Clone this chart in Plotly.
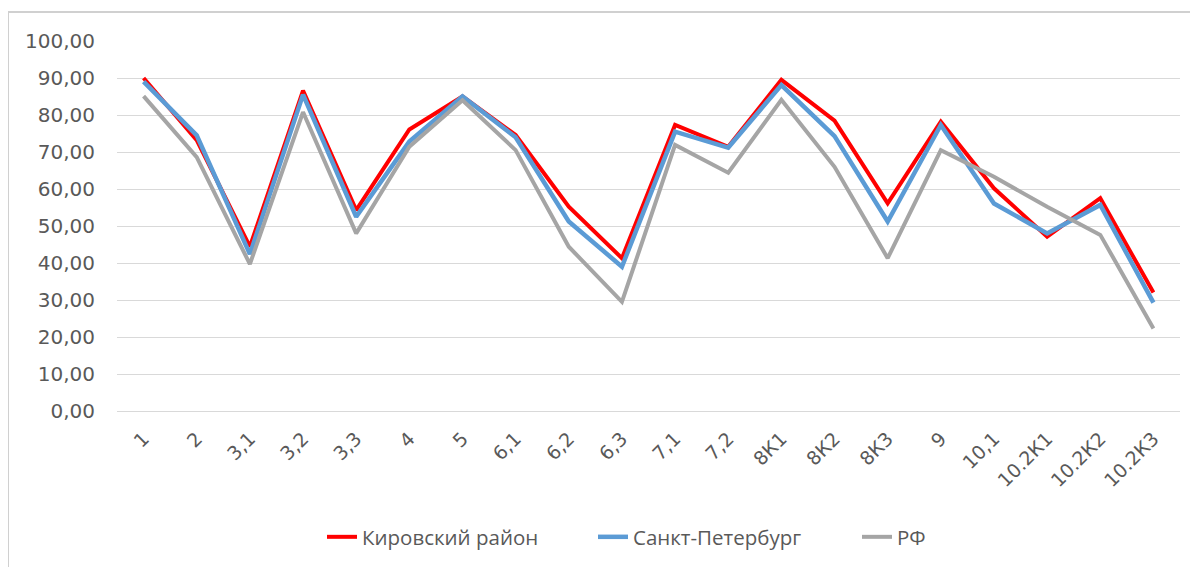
import plotly.graph_objects as go

categories = ["1", "2", "3,1", "3,2", "3,3", "4", "5", "6,1", "6,2", "6,3",
              "7,1", "7,2", "8К1", "8К2", "8К3", "9", "10,1", "10.2К1", "10.2К2", "10.2К3"]
kirovsky = [90.0, 73.2, 44.4, 86.6, 54.3, 76.1, 85.0, 74.6, 55.2, 41.3,
            77.3, 71.4, 89.5, 78.5, 56.1, 78.2, 60.2, 47.1, 57.5, 32.0]
spb = [89.0, 74.5, 42.4, 85.5, 52.5, 72.8, 85.0, 74.0, 51.2, 39.0,
       75.5, 71.2, 88.1, 74.3, 51.2, 77.3, 56.1, 48.0, 55.7, 29.3]
rf = [85.1, 68.6, 39.7, 80.8, 48.0, 71.4, 84.0, 70.5, 44.4, 29.5,
      71.9, 64.4, 84.1, 66.0, 41.3, 70.5, 63.3, 55.2, 47.6, 22.3]
series_names = ["Кировский район", "Санкт-Петербург", "РФ"]
colors = ["#FF0000", "#5B9BD5", "#A5A5A5"]
legend_ids = ["legend", "legend2", "legend3"]

fig = go.Figure()
for name, vals, col, w, lg in zip(series_names, [kirovsky, spb, rf], colors, [4, 4.5, 4], legend_ids):
    fig.add_trace(go.Scatter(x=categories, y=vals, mode="lines", name=name,
                             line=dict(color=col, width=w), legend=lg))

OFF = 8  # page body margin
W, H = 1198, 567
# plot area in page pixels: left 117, right 1180, top 41, bottom 411
ml = 117 - OFF
mt = 41 - OFF
mr = W - (1180 - OFF)
mb = H - (411 - OFF)
pw = W - ml - mr
ph = H - mt - mb

def px_x(p):
    return (p - OFF - ml) / pw

def px_y(p):
    return 1 - (p - OFF - mt) / ph

leg_font = dict(family="Open Sans", size=20.5, color="#595959")
text_starts = [362, 633, 897]
legs = {}
for lg, ts in zip(legend_ids, text_starts):
    legs[lg] = dict(orientation="h", x=px_x(ts - 40), xanchor="left",
                    y=px_y(537), yanchor="middle", font=leg_font,
                    bgcolor="rgba(0,0,0,0)", borderwidth=0)

fig.update_layout(
    width=W, height=H,
    margin=dict(l=ml, r=mr, t=mt, b=mb, autoexpand=False),
    paper_bgcolor="white", plot_bgcolor="white",
    separators=", ",
    showlegend=True,
    xaxis=dict(type="category", range=[-0.5, 19.5], tickangle=-45, automargin=False,
               showgrid=False, showline=False, ticks="", ticklabelstandoff=12,
               tickfont=dict(family="DejaVu Sans", size=19, color="#595959")),
    yaxis=dict(range=[0, 100], tick0=0, dtick=10, tickformat=".2f", automargin=False,
               showgrid=True, gridcolor="#D9D9D9", gridwidth=1,
               zeroline=True, zerolinecolor="#D9D9D9", zerolinewidth=1,
               showline=False, ticks="", ticklabelstandoff=21,
               tickfont=dict(family="DejaVu Sans", size=20, color="#595959")),
    shapes=[
        dict(type="line", xref="paper", yref="paper", x0=px_x(8), x1=px_x(1220),
             y0=px_y(12), y1=px_y(12), line=dict(color="#D0D0D0", width=2)),
        dict(type="line", xref="paper", yref="paper", x0=px_x(8), x1=px_x(8),
             y0=px_y(12), y1=px_y(600), line=dict(color="#D0D0D0", width=2)),
    ],
    **legs,
)

fig.write_html("out.html")
